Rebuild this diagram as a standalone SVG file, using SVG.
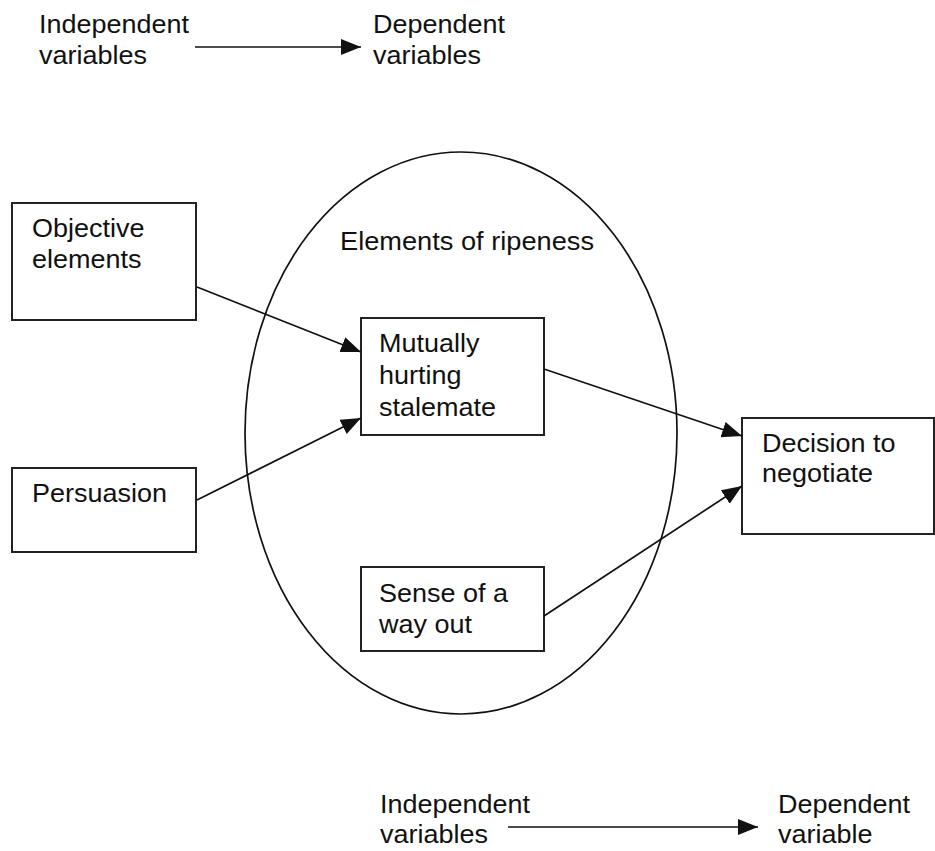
<svg xmlns="http://www.w3.org/2000/svg" width="935" height="851" viewBox="0 0 935 851">
<defs>
<marker id="ah" markerUnits="userSpaceOnUse" markerWidth="22" markerHeight="18" refX="20" refY="8" orient="auto">
<path d="M0,0 L20,8 L0,16 Z" fill="#111"/>
</marker>
<style>
text{font-family:"Liberation Sans",Arial,sans-serif;font-size:26px;fill:#111}
.box{fill:#fff;stroke:#222;stroke-width:2}
.ln{stroke:#111;stroke-width:1.7;fill:none;marker-end:url(#ah)}
</style>
</defs>
<rect width="935" height="851" fill="#fff"/>
<g id="ripeness">
<ellipse cx="461" cy="433" rx="216" ry="281" fill="none" stroke="#111" stroke-width="1.7"/>
<text x="340" y="250" textLength="254" lengthAdjust="spacingAndGlyphs">Elements of ripeness</text>
</g>
<g id="legend-top">
<text x="39" y="33" textLength="150" lengthAdjust="spacingAndGlyphs">Independent</text>
<text x="39" y="64" textLength="108" lengthAdjust="spacingAndGlyphs">variables</text>
<text x="373" y="33" textLength="132" lengthAdjust="spacingAndGlyphs">Dependent</text>
<text x="373" y="64" textLength="108" lengthAdjust="spacingAndGlyphs">variables</text>
</g>
<g id="legend-bottom">
<text x="380" y="813" textLength="150" lengthAdjust="spacingAndGlyphs">Independent</text>
<text x="380" y="843" textLength="108" lengthAdjust="spacingAndGlyphs">variables</text>
<text x="778" y="813" textLength="132" lengthAdjust="spacingAndGlyphs">Dependent</text>
<text x="778" y="843" textLength="94.5" lengthAdjust="spacingAndGlyphs">variable</text>
</g>
<g id="objective">
<rect class="box" x="12" y="203" width="184" height="117"/>
<text x="32" y="237" textLength="112.5" lengthAdjust="spacingAndGlyphs">Objective</text>
<text x="32" y="268" textLength="109.5" lengthAdjust="spacingAndGlyphs">elements</text>
</g>
<g id="persuasion">
<rect class="box" x="12" y="468" width="184" height="84"/>
<text x="32" y="502" textLength="135" lengthAdjust="spacingAndGlyphs">Persuasion</text>
</g>
<g id="stalemate">
<rect class="box" x="361" y="318" width="183" height="117"/>
<text x="379" y="352" textLength="100.5" lengthAdjust="spacingAndGlyphs">Mutually</text>
<text x="379" y="384" textLength="82.5" lengthAdjust="spacingAndGlyphs">hurting</text>
<text x="379" y="416" textLength="117" lengthAdjust="spacingAndGlyphs">stalemate</text>
</g>
<g id="wayout">
<rect class="box" x="361" y="567" width="183" height="84"/>
<text x="379" y="602" textLength="129" lengthAdjust="spacingAndGlyphs">Sense of a</text>
<text x="379" y="633" textLength="93" lengthAdjust="spacingAndGlyphs">way out</text>
</g>
<g id="decision">
<rect class="box" x="742" y="418" width="192" height="116"/>
<text x="762" y="452" textLength="133.5" lengthAdjust="spacingAndGlyphs">Decision to</text>
<text x="762" y="482" textLength="111" lengthAdjust="spacingAndGlyphs">negotiate</text>
</g>
<g id="connectors">
<line class="ln" x1="195" y1="47" x2="361" y2="47"/>
<line class="ln" x1="508" y1="827" x2="758" y2="827"/>
<line class="ln" x1="197" y1="287" x2="361" y2="352"/>
<line class="ln" x1="197" y1="500" x2="361" y2="418"/>
<line class="ln" x1="544" y1="369" x2="742" y2="436"/>
<line class="ln" x1="544" y1="616" x2="742" y2="486"/>
</g>
</svg>
